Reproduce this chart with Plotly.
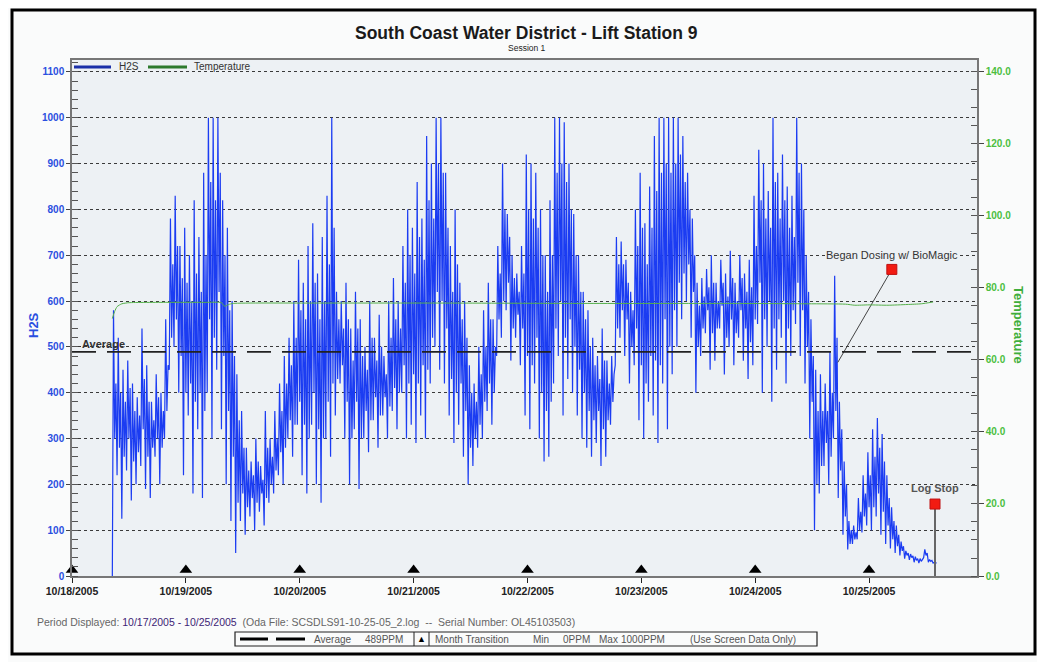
import plotly.graph_objects as go
import pandas as pd

# ---------------- data ----------------
title_text = "South Coast Water District - Lift Station 9"
subtitle_text = "Session 1"

# H2S readings, hourly blocks starting at h2s_start.
# Each hour: extreme low, extreme high, then the low / high of the dense core.
h2s_start = "2005-10-18 08:30"
h2s_low = [
    0, 220, 125, 230, 165, 200, 240, 190, 170, 260,
    200, 300, 450, 500, 400, 220, 350, 180, 320, 170,
    400, 300, 450, 320, 200, 120, 50, 120, 90, 130,
    100, 140, 110, 160, 180, 220, 200, 300, 260, 330,
    220, 180, 330, 200, 160, 300, 260, 350, 420, 300,
    200, 320, 190, 300, 270, 340, 280, 350, 300, 360,
    320, 400, 300, 330, 290, 350, 300, 420, 500, 450,
    420, 350, 290, 330, 260, 200, 240, 280, 300, 360,
    330, 480, 520, 580, 470, 520, 460, 350, 320, 420,
    300, 250, 260, 420, 480, 350, 430, 400, 350, 300,
    280, 260, 290, 240, 260, 330, 460, 520, 480, 420,
    460, 340, 300, 380, 350, 290, 420, 320, 440, 500,
    560, 600, 520, 400, 480, 530, 450, 470, 540, 440,
    500, 460, 520, 470, 430, 460, 550, 400, 500, 380,
    450, 520, 420, 480, 550, 480, 420, 300, 100, 180,
    240, 200, 300, 170, 90, 58, 70, 80, 95, 110,
    100, 130, 90, 70, 60, 50, 45, 38, 35, 30,
    28, 40, 30, 28,
]
h2s_high = [
    580, 520, 450, 470, 420, 390, 540, 460, 380, 440,
    400, 560, 780, 830, 720, 760, 700, 820, 740, 880,
    1000, 1000, 1000, 820, 760, 600, 440, 360, 280, 250,
    300, 240, 360, 300, 360, 420, 480, 520, 600, 690,
    640, 720, 770, 660, 740, 830, 1000, 620, 600, 640,
    540, 620, 560, 500, 600, 520, 570, 480, 600, 650,
    600, 720, 800, 760, 860, 780, 960, 900, 1000, 1000,
    880, 720, 800, 640, 600, 460, 420, 500, 580, 640,
    560, 720, 900, 790, 700, 660, 720, 920, 900, 880,
    800, 700, 820, 1000, 1000, 990, 900, 790, 700, 620,
    580, 520, 480, 540, 470, 480, 740, 730, 690, 620,
    800, 880, 770, 850, 960, 1000, 1000, 1000, 1000, 1000,
    960, 880, 780, 640, 650, 670, 700, 640, 690, 660,
    710, 640, 700, 660, 690, 830, 930, 900, 840, 1000,
    880, 920, 850, 830, 1000, 900, 700, 560, 450, 440,
    420, 490, 655, 380, 250, 120, 110, 170, 220, 270,
    320, 345, 310, 220, 150, 110, 75, 55, 48, 42,
    38, 58, 36, 30,
]
h2s_core_low = [
    300, 280, 260, 300, 250, 270, 320, 260, 280, 300,
    280, 360, 520, 560, 480, 400, 420, 380, 400, 360,
    560, 520, 620, 480, 360, 260, 160, 180, 150, 170,
    160, 180, 170, 200, 230, 270, 280, 340, 330, 380,
    330, 300, 400, 320, 300, 380, 420, 430, 460, 380,
    300, 380, 300, 360, 340, 390, 350, 390, 370, 410,
    400, 460, 420, 440, 420, 460, 450, 520, 620, 600,
    540, 430, 400, 420, 360, 280, 300, 330, 380, 420,
    400, 560, 600, 640, 540, 570, 540, 480, 460, 520,
    400, 360, 380, 540, 600, 520, 560, 500, 450, 400,
    360, 340, 360, 320, 340, 380, 540, 580, 560, 500,
    540, 460, 420, 480, 470, 460, 560, 500, 580, 640,
    660, 680, 620, 500, 540, 580, 530, 540, 590, 520,
    560, 530, 580, 540, 510, 560, 640, 560, 600, 540,
    560, 600, 540, 580, 640, 580, 500, 380, 200, 240,
    290, 260, 360, 230, 130, 70, 80, 100, 130, 150,
    150, 180, 140, 110, 80, 65, 55, 45, 40, 34,
    32, 45, 32, 28,
]
h2s_core_high = [
    420, 400, 380, 410, 360, 350, 430, 380, 340, 390,
    360, 460, 680, 720, 650, 640, 600, 660, 620, 700,
    860, 820, 880, 700, 580, 480, 340, 280, 230, 220,
    250, 210, 280, 260, 300, 360, 420, 460, 520, 580,
    560, 600, 640, 560, 600, 680, 760, 560, 540, 560,
    470, 540, 480, 450, 520, 470, 500, 440, 520, 560,
    540, 640, 700, 660, 740, 690, 820, 780, 900, 880,
    760, 620, 680, 560, 520, 400, 380, 440, 500, 560,
    500, 660, 800, 740, 650, 620, 660, 800, 780, 760,
    700, 620, 700, 880, 900, 860, 800, 700, 620, 560,
    500, 460, 430, 470, 420, 440, 680, 680, 640, 580,
    720, 760, 680, 760, 840, 880, 900, 880, 900, 920,
    860, 800, 700, 590, 610, 630, 640, 600, 640, 610,
    650, 600, 650, 620, 630, 720, 820, 780, 760, 860,
    780, 820, 760, 740, 880, 800, 620, 480, 360, 360,
    360, 400, 520, 320, 200, 100, 95, 140, 180, 220,
    260, 280, 250, 170, 120, 90, 65, 50, 44, 38,
    36, 50, 34, 29,
]

# Temperature (hours after 2005-10-18 00:00, degrees)
temp_origin = "2005-10-18 00:00"
temp_hours = [8.5, 9.0, 9.5, 10.5, 12, 20, 28, 31.5, 32.2, 33, 34, 50, 80,
              110, 140, 155, 163, 165, 168, 172, 176, 179, 181.5]
temp_values = [71.5, 73.5, 74.8, 75.6, 75.9, 76.0, 76.0, 75.9, 74.9, 75.4, 75.7,
               75.8, 75.8, 75.7, 75.7, 75.6, 75.5, 75.2, 75.3, 75.2, 75.4, 75.6, 76.1]

day_ticks = ["2005-10-18", "2005-10-19", "2005-10-20", "2005-10-21",
             "2005-10-22", "2005-10-23", "2005-10-24", "2005-10-25"]
x_range = ["2005-10-18 00:00", "2005-10-25 22:45"]

h2s_average = 489
h2s_min = 0
h2s_max = 1000

event_names = ["Began Dosing w/ BioMagic", "Log Stop"]
event_times = ["2005-10-25 04:48", "2005-10-25 13:54"]
event_values = [669, 157]
dosing_pointer_time = "2005-10-24 17:24"
dosing_pointer_value = 466

period_text = "10/17/2005 - 10/25/2005"
file_text = "SCSDLS91-10-25-05_2.log"
serial_text = "OL45103503"

# ---------------- build series ----------------
t0 = pd.Timestamp(h2s_start)
h2s_x, h2s_y = [], []
for i, vals in enumerate(zip(h2s_low, h2s_high, h2s_core_low, h2s_core_high)):
    for j, v in enumerate(vals):
        h2s_x.append(t0 + pd.Timedelta(minutes=60 * i + 15 * j))
        h2s_y.append(v)

tt0 = pd.Timestamp(temp_origin)
temp_x = [tt0 + pd.Timedelta(minutes=round(h * 60)) for h in temp_hours]

# ---------------- geometry helpers (page pixel -> paper) ----------------
OFF = 8                       # page body margin
W, H = 1045 - OFF, 662 - OFF
L, R, T, B = 72, 977, 60, 576  # plot area in page pixels
Y_TOP = 1126
Y2_TOP = Y_TOP * 140 / 1100


def px(x):
    return (x - L) / (R - L)


def py(y):
    return (B - y) / (B - T)


FONT = "Liberation Sans, Arial, sans-serif"
BLUE = "#1b3cf2"
GREEN = "#55b04a"
PLOT_BG = "#edf1f4"

fig = go.Figure()

fig.add_trace(go.Scatter(
    x=h2s_x, y=h2s_y, mode="lines", name="H2S",
    line=dict(color=BLUE, width=1.2), showlegend=False, hoverinfo="skip"))

fig.add_trace(go.Scatter(
    x=temp_x, y=temp_values, mode="lines", name="Temperature", yaxis="y2",
    line=dict(color=GREEN, width=1, shape="spline", smoothing=0.6),
    showlegend=False, hoverinfo="skip"))

# month transition markers
fig.add_trace(go.Scatter(
    x=day_ticks, y=[13] * len(day_ticks), mode="markers",
    marker=dict(symbol="triangle-up", size=11, color="black"),
    cliponaxis=False, showlegend=False, hoverinfo="skip"))

# Began dosing pointer
fig.add_trace(go.Scatter(
    x=[dosing_pointer_time, event_times[0]], y=[dosing_pointer_value, event_values[0]],
    mode="lines", line=dict(color="#444", width=1), showlegend=False, hoverinfo="skip"))
# Log stop stem
fig.add_trace(go.Scatter(
    x=[event_times[1], event_times[1]], y=[0, event_values[1]],
    mode="lines", line=dict(color="#666", width=2), showlegend=False, hoverinfo="skip"))
# event markers
fig.add_trace(go.Scatter(
    x=event_times, y=event_values, mode="markers",
    marker=dict(symbol="square", size=10, color="#f21b12", line=dict(color="#c01010", width=1)),
    showlegend=False, hoverinfo="skip"))

shapes = []
# average line
shapes.append(dict(type="line", xref="paper", yref="y", x0=0, x1=1,
                   y0=h2s_average, y1=h2s_average,
                   line=dict(color="#222", width=1.6, dash="24px,11px")))
# outer frame
shapes.append(dict(type="rect", xref="paper", yref="paper",
                   x0=px(12), x1=px(1035), y0=py(654), y1=py(10),
                   line=dict(color="black", width=3)))
# legend lines
shapes.append(dict(type="line", xref="paper", yref="paper", x0=px(74), x1=px(111),
                   y0=py(67), y1=py(67), line=dict(color="#1a2fa8", width=3)))
shapes.append(dict(type="line", xref="paper", yref="paper", x0=px(148), x1=px(187),
                   y0=py(67), y1=py(67), line=dict(color="#2d7a2d", width=3)))
# footer box
shapes.append(dict(type="rect", xref="paper", yref="paper", x0=px(235), x1=px(817),
                   y0=py(646), y1=py(632), line=dict(color="#222", width=1.2)))
for sx in (414, 429):
    shapes.append(dict(type="line", xref="paper", yref="paper", x0=px(sx), x1=px(sx),
                       y0=py(646), y1=py(632), line=dict(color="#222", width=1)))
for d0, d1 in ((240, 268), (276, 305)):
    shapes.append(dict(type="line", xref="paper", yref="paper", x0=px(d0), x1=px(d1),
                       y0=py(639), y1=py(639), line=dict(color="black", width=3)))

ann = []


def text(x, y, s, size=10, color="#333", xanchor="center", angle=0, bold=False, yanchor="middle"):
    ann.append(dict(x=px(x), y=py(y), xref="paper", yref="paper", text=f"<b>{s}</b>" if bold else s,
                    showarrow=False, xanchor=xanchor, yanchor=yanchor, textangle=angle,
                    font=dict(family=FONT, size=size, color=color)))


text(526, 33, title_text, size=17.5, color="#1a1a1a", bold=True)
text(527, 48, subtitle_text, size=8.5, color="#222")
text(117, 66, "H2S", size=10, color="#333", xanchor="left")
text(192, 66, "Temperature", size=10, color="#333", xanchor="left")
text(33, 325, "H2S", size=13, color="#2a4fe0", angle=-90, bold=True)
text(1019, 325, "Temperature", size=13, color="#3fae3a", angle=90, bold=True)
text(80, 344, "Average", size=11, color="#333", xanchor="left", bold=True)
text(35, 622,
     'Period Displayed: <span style="color:#3d2475">' + period_text + '</span>'
     '\u00a0\u00a0(Oda File: ' + file_text + '\u00a0\u00a0--\u00a0\u00a0Serial Number: ' + serial_text + ')',
     size=10.5, color="#666", xanchor="left")
FS = 10
text(312, 639, "Average", size=FS, color="#555", xanchor="left")
text(363, 639, f"{h2s_average}PPM", size=FS, color="#555", xanchor="left")
text(421.5, 639, "▲", size=9, color="black")
text(433, 639, "Month Transition", size=FS, color="#555", xanchor="left")
text(531, 639, "Min", size=FS, color="#555", xanchor="left")
text(561, 639, f"{h2s_min}PPM", size=FS, color="#555", xanchor="left")
text(597, 639, "Max", size=FS, color="#555", xanchor="left")
text(619, 639, f"{h2s_max}PPM", size=FS, color="#555", xanchor="left")
text(688, 639, "(Use Screen Data Only)", size=FS, color="#555", xanchor="left")

# event labels (data coords)
ann.append(dict(x=event_times[0], y=700, xref="x", yref="y", text=event_names[0],
                showarrow=False, bgcolor=PLOT_BG, borderpad=0,
                font=dict(family=FONT, size=11, color="#333")))
ann.append(dict(x=event_times[1], y=event_values[1], xref="x", yref="y", yshift=16,
                text="<b>" + event_names[1] + "</b>", showarrow=False,
                font=dict(family=FONT, size=11, color="#555")))

fig.update_layout(
    width=W, height=H,
    margin=dict(l=L - OFF, r=(W + OFF) - R, t=T - OFF, b=(H + OFF) - B, pad=0),
    paper_bgcolor="#fafbfb", plot_bgcolor=PLOT_BG,
    font=dict(family=FONT),
    showlegend=False,
    shapes=shapes, annotations=ann,
    xaxis=dict(
        type="date", range=x_range, tickvals=day_ticks, tickformat="%m/%d/%Y",
        tickfont=dict(family=FONT, size=10.5, color="#222", weight="bold"),
        ticks="outside", ticklen=5, tickcolor="#222",
        showgrid=False, zeroline=False,
        showline=True, linecolor="#777", linewidth=1.5, mirror=True,
    ),
    yaxis=dict(
        range=[0, Y_TOP], tick0=0, dtick=100,
        tickfont=dict(family=FONT, size=10, color="#2a4fe0", weight="bold"),
        ticks="outside", ticklen=4, tickcolor="#444",
        minor=dict(tickmode="linear", tick0=0, dtick=20, ticks="inside", ticklen=6,
                   tickcolor="#555", showgrid=False),
        showgrid=True, gridcolor="#3a3a3a", griddash="dot", gridwidth=1,
        zeroline=False, showline=True, linecolor="#777", linewidth=1.5, mirror=True,
        layer="above traces",
    ),
    yaxis2=dict(
        overlaying="y", side="right", range=[0, Y2_TOP], tick0=0, dtick=20,
        tickformat=".1f",
        tickfont=dict(family=FONT, size=10, color="#4cbf3f", weight="bold"),
        ticks="outside", ticklen=5, tickcolor="#444",
        minor=dict(tickmode="linear", tick0=0, dtick=5, ticks="inside", ticklen=6,
                   tickcolor="#555", showgrid=False),
        showgrid=False, zeroline=False, showline=True, linecolor="#777", linewidth=1.5,
    ),
)

fig.write_html("out.html")
